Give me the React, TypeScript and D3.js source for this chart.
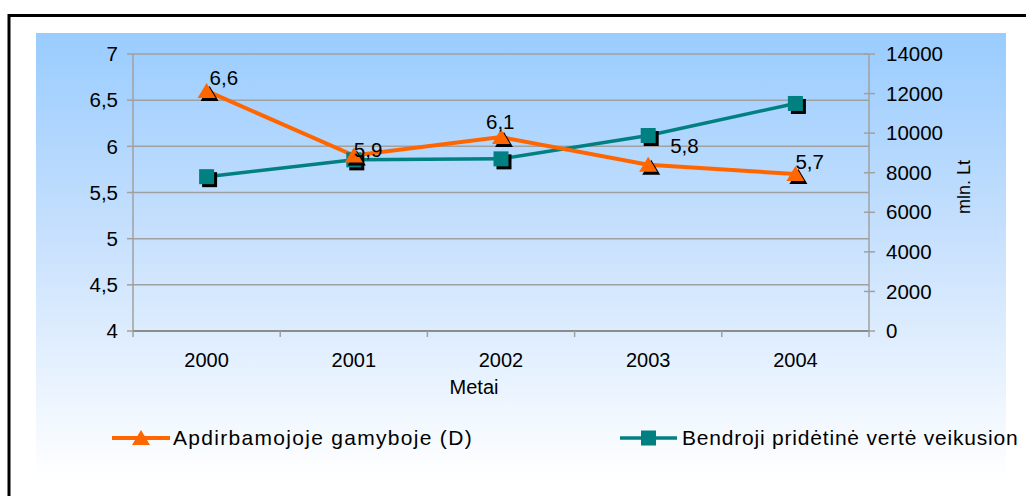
import React from "react";
import * as d3 from "d3";

const years = ["2000", "2001", "2002", "2003", "2004"];
const manufacturing = [6.6, 5.9, 6.1, 5.8, 5.7];
const manufacturingLabels = ["6,6", "5,9", "6,1", "5,8", "5,7"];
const grossValueAdded = [7800, 8650, 8700, 9880, 11500];
const leftTicks = [4, 4.5, 5, 5.5, 6, 6.5, 7];
const rightTicks = [0, 2000, 4000, 6000, 8000, 10000, 12000, 14000];
const seriesNames = ["Apdirbamojoje gamyboje (D)", "Bendroji pridėtinė vertė veikusion"];
const xTitle = "Metai";
const yRightTitle = "mln. Lt";

// label offsets relative to point (dx of text start, dy of baseline)
const labelOffsets: [number, number][] = [
  [3, -6],
  [0, 1],
  [-15, -8],
  [22, -12],
  [0, -5],
];

const W = 1026;
const H = 496;
const ORANGE = "#FF6600";
const TEAL = "#008080";
const FONT = "Arial, 'Liberation Sans', sans-serif";

export default function App() {
  const left = 133, right = 869, top = 54, bottom = 331;
  const x = d3.scaleBand<string>().domain(years).range([left, right]);
  const yL = d3.scaleLinear().domain([4, 7]).range([bottom, top]);
  const yR = d3.scaleLinear().domain([0, 14000]).range([bottom, top]);
  const cx = (d: string) => (x(d) ?? 0) + x.bandwidth() / 2;

  const lineL = d3.line<number>().x((_, i) => cx(years[i])).y((v) => yL(v));
  const lineR = d3.line<number>().x((_, i) => cx(years[i])).y((v) => yR(v));

  const tri = (px: number, py: number) => {
    const s = 8;
    return `M${px},${py - s}L${px + s + 1},${py + s - 1}L${px - s - 1},${py + s - 1}Z`;
  };

  const bounds = x.domain().map((d) => x(d) ?? 0).concat([right]);

  return (
    <svg
      width={W}
      height={H}
      style={{ position: "absolute", left: 0, top: 0, display: "block", background: "#fff" }}
      fontFamily={FONT}
    >
      <defs>
        <linearGradient id="bg" x1="0" y1="0" x2="0" y2="1">
          <stop offset="0" stopColor="#99CCFF" />
          <stop offset="0.45" stopColor="#C6E0FD" />
          <stop offset="1" stopColor="#FFFFFF" />
        </linearGradient>
        <clipPath id="clipR">
          <rect x={0} y={0} width={1018} height={H} />
        </clipPath>
      </defs>
      <rect x={36} y={33} width={970} height={445} fill="url(#bg)" />
      {/* outer frame */}
      <rect x={9} y={15.5} width={1040} height={520} fill="none" stroke="#000" strokeWidth={3} />

      {/* gridlines */}
      {leftTicks.map((t) => (
        <line key={"g" + t} x1={left} x2={right} y1={yL(t)} y2={yL(t)} stroke="#A0A0A0" strokeWidth={1.5} />
      ))}
      {/* left axis */}
      <line x1={left} x2={left} y1={top} y2={bottom} stroke="#A0A0A0" strokeWidth={1.5} />
      {leftTicks.map((t) => (
        <g key={"l" + t}>
          <line x1={left - 6} x2={left} y1={yL(t)} y2={yL(t)} stroke="#A0A0A0" strokeWidth={1.5} />
          <text x={118} y={yL(t)} dy="0.35em" textAnchor="end" fontSize={20.5} fill="#000">
            {String(t).replace(".", ",")}
          </text>
        </g>
      ))}
      {/* right axis */}
      <line x1={right} x2={right} y1={top} y2={bottom} stroke="#A0A0A0" strokeWidth={1.5} />
      {rightTicks.map((t) => (
        <g key={"r" + t}>
          <line x1={right - 5} x2={right + 6} y1={yR(t)} y2={yR(t)} stroke="#A0A0A0" strokeWidth={1.5} />
          <text x={886} y={yR(t)} dy="0.35em" textAnchor="start" fontSize={20.5} fill="#000">
            {t}
          </text>
        </g>
      ))}
      <text
        transform={`translate(970,187) rotate(-90)`}
        textAnchor="middle"
        fontSize={18}
        fill="#000"
      >
        {yRightTitle}
      </text>
      {/* x axis */}
      <line x1={left} x2={right} y1={bottom} y2={bottom} stroke="#8C8C8C" strokeWidth={2} />
      {bounds.map((b, i) => (
        <line key={"xt" + i} x1={b} x2={b} y1={bottom} y2={bottom + 6} stroke="#A0A0A0" strokeWidth={1.5} />
      ))}
      {years.map((d) => (
        <text key={"xl" + d} x={cx(d)} y={367} textAnchor="middle" fontSize={20} fill="#000">
          {d}
        </text>
      ))}
      <text x={474} y={394} textAnchor="middle" fontSize={20} fill="#000">
        {xTitle}
      </text>

      {/* teal series */}
      <path d={lineR(grossValueAdded) ?? ""} fill="none" stroke={TEAL} strokeWidth={3.5} />
      {/* orange series */}
      <path d={lineL(manufacturing) ?? ""} fill="none" stroke={ORANGE} strokeWidth={4} />

      {grossValueAdded.map((v, i) => {
        const px = cx(years[i]);
        const py = yR(v);
        return (
          <g key={"sq" + i}>
            <rect x={px - 7.5 + 3} y={py - 7.5 + 3} width={15} height={15} fill="#000" />
            <rect x={px - 7.5} y={py - 7.5} width={15} height={15} fill={TEAL} />
          </g>
        );
      })}
      {manufacturing.map((v, i) => {
        const px = cx(years[i]);
        const py = yL(v);
        return (
          <g key={"tr" + i}>
            <path d={tri(px + 3, py + 3)} fill="#000" />
            <path d={tri(px, py)} fill={ORANGE} />
          </g>
        );
      })}
      {manufacturing.map((v, i) => {
        const px = cx(years[i]);
        const py = yL(v);
        return (
          <text key={"dl" + i} x={px + labelOffsets[i][0]} y={py + labelOffsets[i][1]} fontSize={20.5} fill="#000">
            {manufacturingLabels[i]}
          </text>
        );
      })}

      {/* legend */}
      <g clipPath="url(#clipR)">
        <line x1={112} x2={170} y1={438} y2={438} stroke={ORANGE} strokeWidth={4} />
        <path d={tri(141, 438)} fill={ORANGE} />
        <text x={173} y={445} fontSize={21} letterSpacing={1.3} fill="#000">
          {seriesNames[0]}
        </text>
        <line x1={620} x2={677} y1={438} y2={438} stroke={TEAL} strokeWidth={3.5} />
        <rect x={641} y={430.5} width={15} height={15} fill={TEAL} />
        <text x={682} y={445} fontSize={21} letterSpacing={0.8} fill="#000">
          {seriesNames[1]}
        </text>
      </g>
    </svg>
  );
}
